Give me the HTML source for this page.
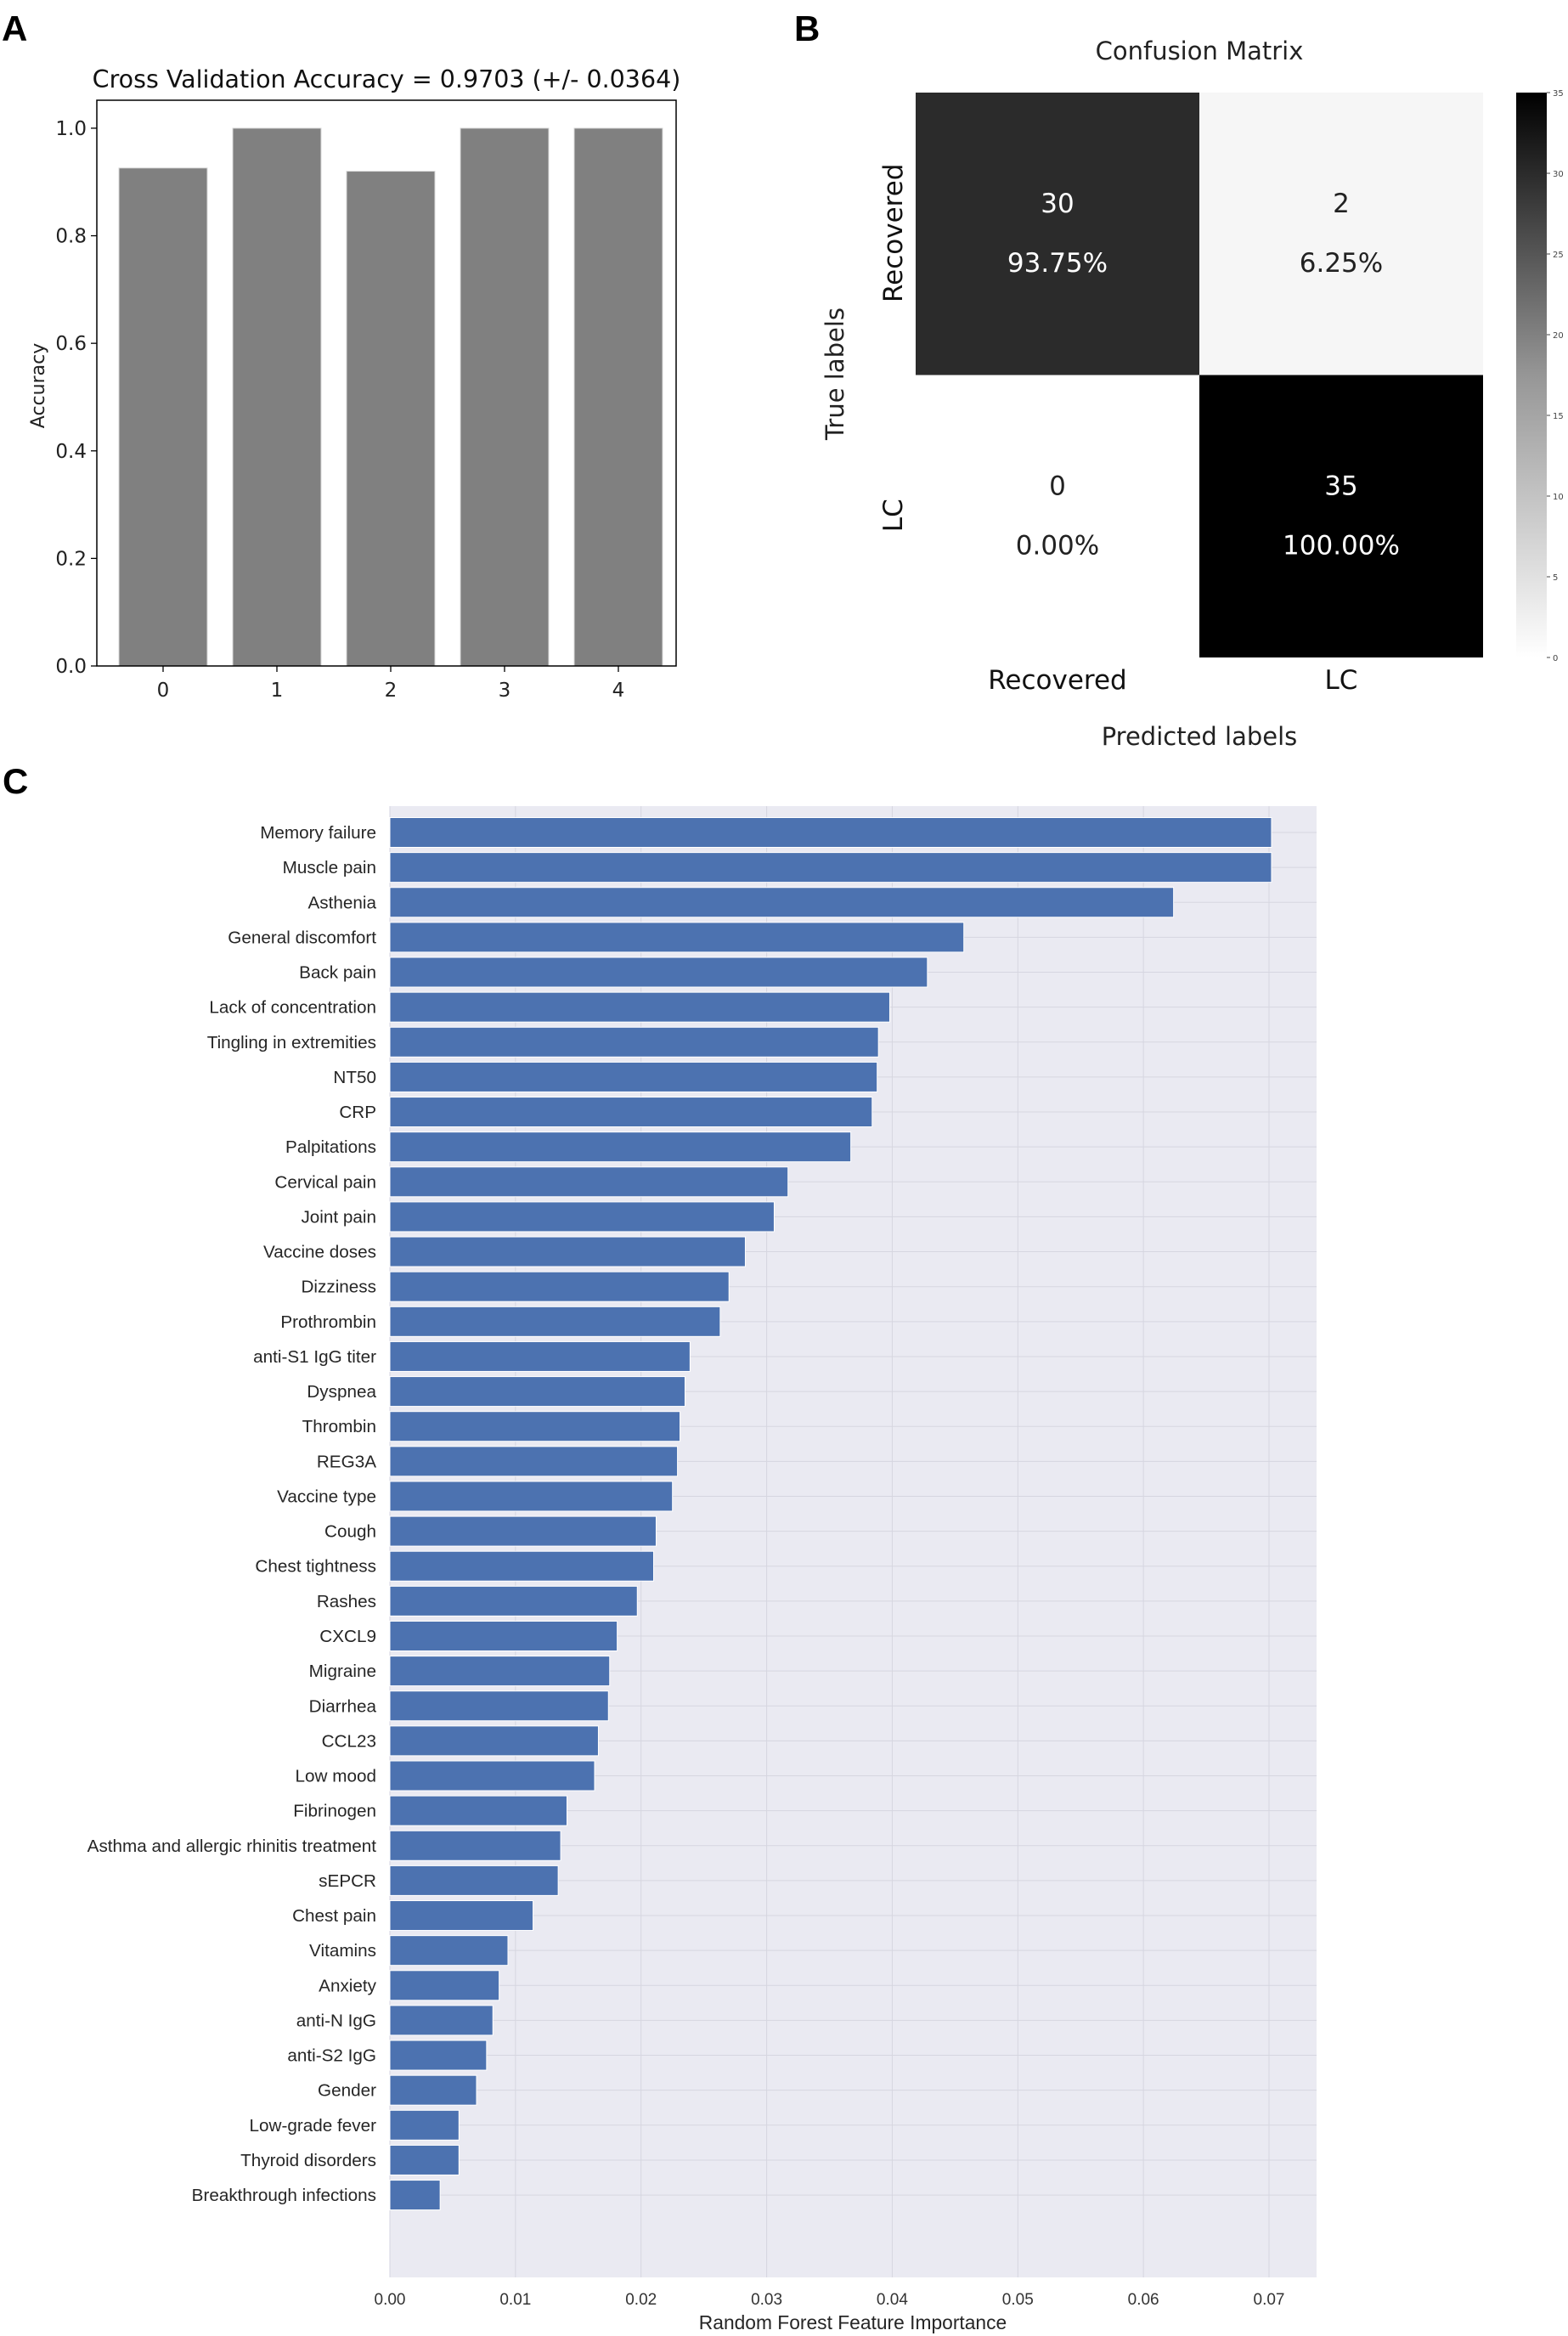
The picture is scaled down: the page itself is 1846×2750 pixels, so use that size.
<!DOCTYPE html>
<html><head><meta charset="utf-8"><style>
html,body{margin:0;padding:0;background:#fff;}
svg{display:block;font-family:"DejaVu Sans","Liberation Sans",sans-serif;}
</style></head><body>
<svg id="fig" width="1846" height="2750" viewBox="0 0 1846 2750" xmlns="http://www.w3.org/2000/svg">
<defs>
<linearGradient id="cbar" x1="0" y1="1" x2="0" y2="0">
<stop offset="0" stop-color="#ffffff"/><stop offset="0.5" stop-color="#969696"/><stop offset="1" stop-color="#000000"/>
</linearGradient>
</defs>
<text x="2" y="48" font-family="Liberation Sans, sans-serif" font-weight="bold" font-size="42">A</text>
<text x="935" y="48" font-family="Liberation Sans, sans-serif" font-weight="bold" font-size="42">B</text>
<text x="3" y="934" font-family="Liberation Sans, sans-serif" font-weight="bold" font-size="42">C</text>
<g id="pa"></g>
<g id="pb"></g>
<g id="pc"></g>
</svg>
<script>
// Panel A data
const foldLabels = ["0","1","2","3","4"];
const foldAccuracy = [0.926, 1.0, 0.920, 1.0, 1.0];
const accTicks = [0.0,0.2,0.4,0.6,0.8,1.0];
// Panel B data
const cmCounts = [[30,2],[0,35]];
const cmPercents = [["93.75%","6.25%"],["0.00%","100.00%"]];
const cmClasses = ["Recovered","LC"];
const cbarTicks = [0,5,10,15,20,25,30,35];
// Panel C data
const features = ["Memory failure","Muscle pain","Asthenia","General discomfort","Back pain","Lack of concentration","Tingling in extremities","NT50","CRP","Palpitations","Cervical pain","Joint pain","Vaccine doses","Dizziness","Prothrombin","anti-S1 IgG titer","Dyspnea","Thrombin","REG3A","Vaccine type","Cough","Chest tightness","Rashes","CXCL9","Migraine","Diarrhea","CCL23","Low mood","Fibrinogen","Asthma and allergic rhinitis treatment","sEPCR","Chest pain","Vitamins","Anxiety","anti-N IgG","anti-S2 IgG","Gender","Low-grade fever","Thyroid disorders","Breakthrough infections"];
const importance = [0.0702,0.0702,0.0624,0.0457,0.0428,0.0398,0.0389,0.0388,0.0384,0.0367,0.0317,0.0306,0.0283,0.0270,0.0263,0.0239,0.0235,0.0231,0.0229,0.0225,0.0212,0.0210,0.0197,0.0181,0.0175,0.0174,0.0166,0.0163,0.0141,0.0136,0.0134,0.0114,0.0094,0.0087,0.0082,0.0077,0.0069,0.0055,0.0055,0.0040];
const impTicks = [0,0.01,0.02,0.03,0.04,0.05,0.06,0.07];

const NS="http://www.w3.org/2000/svg";
function mk(parent,tag,attrs,text){const e=document.createElementNS(NS,tag);for(const k in attrs)e.setAttribute(k,attrs[k]);if(text!==undefined)e.textContent=text;parent.appendChild(e);return e;}

// ---- Panel A
(function(){
const g=document.getElementById('pa');
const L=114,R=796,T=118,B=784;
const y=v=>B-(v/1.052)*(B-T);
const x=i=>192+i*134;
const bw=104;
foldAccuracy.forEach((v,i)=>{
 const r=mk(g,'rect',{x:x(i)-bw/2,y:y(v),width:bw,height:B-y(v),fill:'#808080',stroke:'#d8d8d8','stroke-width':1});
 
 
 mk(g,'line',{x1:x(i),x2:x(i),y1:B,y2:B+7,stroke:'#000','stroke-width':1.3});
 const t=mk(g,'text',{x:x(i),y:B+36,'text-anchor':'middle','font-size':23,fill:'#222'},foldLabels[i]);
 
 
});
accTicks.forEach(v=>{
 mk(g,'line',{x1:L-7,x2:L,y1:y(v),y2:y(v),stroke:'#000','stroke-width':1.3});
 const t=mk(g,'text',{x:L-12,y:y(v)+8,'text-anchor':'end','font-size':23,fill:'#222'},v.toFixed(1));
 
 
});
mk(g,'rect',{x:L,y:T,width:R-L,height:B-T,fill:'none',stroke:'#000','stroke-width':1.5});
const ti=mk(g,'text',{x:(L+R)/2,y:103,'text-anchor':'middle','font-size':28.5,fill:'#111'},'Cross Validation Accuracy = 0.9703 (+/- 0.0364)');


const yl=mk(g,'text',{x:0,y:0,'text-anchor':'middle','font-size':22,fill:'#222',transform:'translate(52,454) rotate(-90)'},'Accuracy');


})();

// ---- Panel B
(function(){
const g=document.getElementById('pb');
const L=1078,T=109,SW=334,SH=332.5;
const col=v=>{const c=Math.round(255-(v/35)*255);return 'rgb('+c+','+c+','+c+')';};
const shade=[['#2b2b2b','#f6f6f6'],['#ffffff','#000000']];
for(let r=0;r<2;r++)for(let c=0;c<2;c++){
 const v=cmCounts[r][c];
 const fill=shade[r][c]||col(v);
 const cell=mk(g,'rect',{x:L+c*SW,y:T+r*SH,width:SW,height:SH,fill:fill});
 
 
 const tc=v>17?'#fff':'#222';
 const cx=L+c*SW+SW/2;
 const t1=mk(g,'text',{x:cx,y:T+r*SH+141,'text-anchor':'middle','font-size':31,fill:tc},String(v));
 
 
 const t2=mk(g,'text',{x:cx,y:T+r*SH+211,'text-anchor':'middle','font-size':31,fill:tc},cmPercents[r][c]);
 
 
}
cmClasses.forEach((c,i)=>{
 const t=mk(g,'text',{x:L+i*SW+SW/2,y:811,'text-anchor':'middle','font-size':31,fill:'#111'},c);
 
 
 const t2=mk(g,'text',{x:0,y:0,'text-anchor':'middle','font-size':31,fill:'#111',transform:'translate(1062,'+(T+i*SH+SH/2-1)+') rotate(-90)'},c);
 
 
});
const tt=mk(g,'text',{x:1412,y:70,'text-anchor':'middle','font-size':29,fill:'#222'},'Confusion Matrix');


const xl=mk(g,'text',{x:1412,y:877,'text-anchor':'middle','font-size':29,fill:'#222'},'Predicted labels');


const yl=mk(g,'text',{x:0,y:0,'text-anchor':'middle','font-size':29,fill:'#222',transform:'translate(993,440) rotate(-90)'},'True labels');


const cbT=109,cbB=774;
const cb=mk(g,'rect',{x:1785,y:cbT,width:36,height:cbB-cbT,fill:'url(#cbar)'});


cbarTicks.forEach(v=>{
 const yy=cbB-(v/35)*(cbB-cbT);
 mk(g,'line',{x1:1821,x2:1825,y1:yy,y2:yy,stroke:'#444','stroke-width':1});
 const t=mk(g,'text',{x:1828,y:yy+4,'font-size':10,fill:'#444'},String(v));
 
 
});
})();

// ---- Panel C
(function(){
const g=document.getElementById('pc');
const L=459,R=1550,T=949,B=2681;
const x=v=>L+v*(1494-459)/0.07;
const y0=980,dy=41.13,bh=35;
const bg=mk(g,'rect',{x:L,y:T,width:R-L,height:B-T,fill:'#eaeaf2'});


impTicks.forEach(v=>{
 mk(g,'line',{x1:x(v),x2:x(v),y1:T,y2:B,stroke:'#d6d6e0','stroke-width':1});
 const t=mk(g,'text',{x:x(v),y:2713,'text-anchor':'middle','font-size':19,fill:'#333','font-family':'Liberation Sans, sans-serif'},v.toFixed(2));
 
 
});
features.forEach((f,i)=>{
 const cy=y0+i*dy;
 mk(g,'line',{x1:L,x2:R,y1:cy,y2:cy,stroke:'#d6d6e0','stroke-width':1});
});
features.forEach((f,i)=>{
 const cy=y0+i*dy;
 const r=mk(g,'rect',{x:L,y:cy-bh/2,width:x(importance[i])-L,height:bh,fill:'#4c72b0',stroke:'#fff','stroke-width':1});
 
 
 const t=mk(g,'text',{x:443,y:cy+7,'text-anchor':'end','font-size':20.7,fill:'#262626','font-family':'Liberation Sans, sans-serif'},f);
 
 
});
const xl=mk(g,'text',{x:1004,y:2742,'text-anchor':'middle','font-size':22.8,fill:'#262626','font-family':'Liberation Sans, sans-serif'},'Random Forest Feature Importance');


})();
</script>
</body></html>
